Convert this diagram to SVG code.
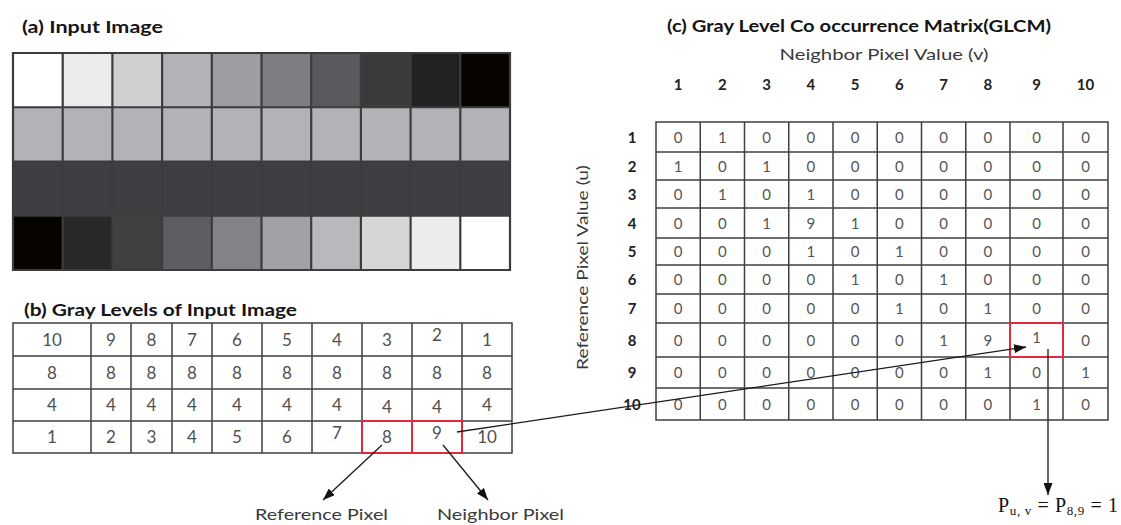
<svg xmlns="http://www.w3.org/2000/svg" width="1121" height="525" viewBox="0 0 1121 525">
<style>
.title{font-family:Lato,"Liberation Sans",sans-serif;font-weight:bold;font-size:17px;fill:#151515}
.lbl{font-family:Lato,"Liberation Sans",sans-serif;font-size:16px;fill:#3a3a3a}
.cb{font-family:Lato,"Liberation Sans",sans-serif;font-size:17px;fill:#505050;text-anchor:middle}
.cg{font-family:Lato,"Liberation Sans",sans-serif;font-size:15px;fill:#555;text-anchor:middle}
.hd{font-family:Lato,"Liberation Sans",sans-serif;font-size:15px;font-weight:bold;fill:#222;text-anchor:middle}
.grid{fill:none;stroke:#3c3c3c;stroke-width:2.2}
.tbl{fill:none;stroke:#404040;stroke-width:1.5}
.red{fill:none;stroke:#e3283e;stroke-width:2}
.arr{fill:none;stroke:#1a1a1a;stroke-width:1.3;marker-end:url(#ah)}
</style>
<defs>
<marker id="ah" markerUnits="userSpaceOnUse" markerWidth="12" markerHeight="9" refX="12" refY="4.5" orient="auto">
<path d="M0,0 L12,4.5 L0,9 z" fill="#111"/>
</marker>
</defs>
<rect width="1121" height="525" fill="#fff"/>

<g id="input-image">
<text class="title" x="22" y="33" textLength="141" lengthAdjust="spacingAndGlyphs">(a) Input Image</text>
<rect x="13" y="107.25" width="497" height="54.25" fill="#b2b3b7"/>
<rect x="13" y="161.5" width="497" height="54.25" fill="#3e3f42"/>
<rect x="13" y="53" width="49.7" height="54.25" fill="#ffffff"/>
<rect x="62.7" y="53" width="49.7" height="54.25" fill="#ebebeb"/>
<rect x="112.4" y="53" width="49.7" height="54.25" fill="#d0d0d0"/>
<rect x="162.1" y="53" width="49.7" height="54.25" fill="#b3b3b7"/>
<rect x="211.8" y="53" width="49.7" height="54.25" fill="#9e9ea2"/>
<rect x="261.5" y="53" width="49.7" height="54.25" fill="#7e7e82"/>
<rect x="311.2" y="53" width="49.7" height="54.25" fill="#5a5a5e"/>
<rect x="360.9" y="53" width="49.7" height="54.25" fill="#3b3b3d"/>
<rect x="410.6" y="53" width="49.7" height="54.25" fill="#222222"/>
<rect x="460.3" y="53" width="49.7" height="54.25" fill="#060300"/>
<rect x="13" y="215.75" width="49.7" height="54.25" fill="#060300"/>
<rect x="62.7" y="215.75" width="49.7" height="54.25" fill="#282828"/>
<rect x="112.4" y="215.75" width="49.7" height="54.25" fill="#404043"/>
<rect x="162.1" y="215.75" width="49.7" height="54.25" fill="#5e5e62"/>
<rect x="211.8" y="215.75" width="49.7" height="54.25" fill="#838387"/>
<rect x="261.5" y="215.75" width="49.7" height="54.25" fill="#a2a2a6"/>
<rect x="311.2" y="215.75" width="49.7" height="54.25" fill="#b9b9bd"/>
<rect x="360.9" y="215.75" width="49.7" height="54.25" fill="#d6d6d6"/>
<rect x="410.6" y="215.75" width="49.7" height="54.25" fill="#ececec"/>
<rect x="460.3" y="215.75" width="49.7" height="54.25" fill="#ffffff"/>
<path class="grid" d="M13,53H510V270H13Z M62.7,53V270 M112.4,53V270 M162.1,53V270 M211.8,53V270 M261.5,53V270 M311.2,53V270 M360.9,53V270 M410.6,53V270 M460.3,53V270 M13,107.25H510 M13,161.5H510 M13,215.75H510"/>
</g>

<g id="gray-levels">
<text class="title" x="24" y="316" textLength="273" lengthAdjust="spacingAndGlyphs">(b) Gray Levels of Input Image</text>
<path class="tbl" d="M13,323H512V453H13Z M91,323V453 M131,323V453 M172,323V453 M212,323V453 M262,323V453 M312,323V453 M362,323V453 M412,323V453 M462,323V453 M13,356H512 M13,389H512 M13,421H512"/>
<text class="cb" x="52" y="345.5">10</text>
<text class="cb" x="111" y="345.5">9</text>
<text class="cb" x="151.5" y="345.5">8</text>
<text class="cb" x="192" y="345.5">7</text>
<text class="cb" x="237" y="345.5">6</text>
<text class="cb" x="287" y="345.5">5</text>
<text class="cb" x="337" y="345.5">4</text>
<text class="cb" x="387" y="345.5">3</text>
<text class="cb" x="437" y="341">2</text>
<text class="cb" x="487" y="345.5">1</text>
<text class="cb" x="52" y="378.5">8</text>
<text class="cb" x="111" y="378.5">8</text>
<text class="cb" x="151.5" y="378.5">8</text>
<text class="cb" x="192" y="378.5">8</text>
<text class="cb" x="237" y="378.5">8</text>
<text class="cb" x="287" y="378.5">8</text>
<text class="cb" x="337" y="378.5">8</text>
<text class="cb" x="387" y="378.5">8</text>
<text class="cb" x="437" y="378.5">8</text>
<text class="cb" x="487" y="378.5">8</text>
<text class="cb" x="52" y="411">4</text>
<text class="cb" x="111" y="411">4</text>
<text class="cb" x="151.5" y="411">4</text>
<text class="cb" x="192" y="411">4</text>
<text class="cb" x="237" y="411">4</text>
<text class="cb" x="287" y="411">4</text>
<text class="cb" x="337" y="411">4</text>
<text class="cb" x="387" y="413">4</text>
<text class="cb" x="437" y="413">4</text>
<text class="cb" x="487" y="411">4</text>
<text class="cb" x="52" y="443">1</text>
<text class="cb" x="111" y="443">2</text>
<text class="cb" x="151.5" y="443">3</text>
<text class="cb" x="192" y="443">4</text>
<text class="cb" x="237" y="443">5</text>
<text class="cb" x="287" y="443">6</text>
<text class="cb" x="337" y="439">7</text>
<text class="cb" x="387" y="443">8</text>
<text class="cb" x="437" y="439">9</text>
<text class="cb" x="487" y="443">10</text>
<rect class="red" x="362" y="421" width="50" height="32"/>
<rect class="red" x="412" y="421" width="50" height="32"/>
</g>

<g id="glcm">
<text class="title" x="667" y="32" textLength="384" lengthAdjust="spacingAndGlyphs">(c) Gray Level Co occurrence Matrix(GLCM)</text>
<text class="lbl" x="884" y="60" text-anchor="middle" textLength="209" lengthAdjust="spacingAndGlyphs">Neighbor Pixel Value (v)</text>
<text class="lbl" transform="translate(588,267.5) rotate(-90)" text-anchor="middle" textLength="205" lengthAdjust="spacingAndGlyphs">Reference Pixel Value (u)</text>
<text class="hd" x="678.1" y="90">1</text>
<text class="hd" x="722.4" y="90">2</text>
<text class="hd" x="766.6" y="90">3</text>
<text class="hd" x="810.9" y="90">4</text>
<text class="hd" x="855.1" y="90">5</text>
<text class="hd" x="899.4" y="90">6</text>
<text class="hd" x="943.6" y="90">7</text>
<text class="hd" x="987.9" y="90">8</text>
<text class="hd" x="1036.5" y="90">9</text>
<text class="hd" x="1085.5" y="90">10</text>
<text class="hd" x="632" y="142.5">1</text>
<text class="hd" x="632" y="171.5">2</text>
<text class="hd" x="632" y="199.5">3</text>
<text class="hd" x="632" y="228.5">4</text>
<text class="hd" x="632" y="257">5</text>
<text class="hd" x="632" y="285">6</text>
<text class="hd" x="632" y="314">7</text>
<text class="hd" x="632" y="345.5">8</text>
<text class="hd" x="632" y="378">9</text>
<text class="hd" x="632" y="409.5">10</text>
<path class="tbl" d="M656,122H1108V420H656Z M700.25,122V420 M744.5,122V420 M788.75,122V420 M833,122V420 M877.25,122V420 M921.5,122V420 M965.75,122V420 M1010,122V420 M1063,122V420 M656,152H1108 M656,180H1108 M656,208H1108 M656,238H1108 M656,265H1108 M656,294H1108 M656,323H1108 M656,357H1108 M656,388H1108"/>
<g>
<text class="cg" x="678.1" y="142.5">0</text><text class="cg" x="722.4" y="142.5">1</text><text class="cg" x="766.6" y="142.5">0</text><text class="cg" x="810.9" y="142.5">0</text><text class="cg" x="855.1" y="142.5">0</text><text class="cg" x="899.4" y="142.5">0</text><text class="cg" x="943.6" y="142.5">0</text><text class="cg" x="987.9" y="142.5">0</text><text class="cg" x="1036.5" y="142.5">0</text><text class="cg" x="1085.5" y="142.5">0</text>
<text class="cg" x="678.1" y="171.5">1</text><text class="cg" x="722.4" y="171.5">0</text><text class="cg" x="766.6" y="171.5">1</text><text class="cg" x="810.9" y="171.5">0</text><text class="cg" x="855.1" y="171.5">0</text><text class="cg" x="899.4" y="171.5">0</text><text class="cg" x="943.6" y="171.5">0</text><text class="cg" x="987.9" y="171.5">0</text><text class="cg" x="1036.5" y="171.5">0</text><text class="cg" x="1085.5" y="171.5">0</text>
<text class="cg" x="678.1" y="199.5">0</text><text class="cg" x="722.4" y="199.5">1</text><text class="cg" x="766.6" y="199.5">0</text><text class="cg" x="810.9" y="199.5">1</text><text class="cg" x="855.1" y="199.5">0</text><text class="cg" x="899.4" y="199.5">0</text><text class="cg" x="943.6" y="199.5">0</text><text class="cg" x="987.9" y="199.5">0</text><text class="cg" x="1036.5" y="199.5">0</text><text class="cg" x="1085.5" y="199.5">0</text>
<text class="cg" x="678.1" y="228.5">0</text><text class="cg" x="722.4" y="228.5">0</text><text class="cg" x="766.6" y="228.5">1</text><text class="cg" x="810.9" y="228.5">9</text><text class="cg" x="855.1" y="228.5">1</text><text class="cg" x="899.4" y="228.5">0</text><text class="cg" x="943.6" y="228.5">0</text><text class="cg" x="987.9" y="228.5">0</text><text class="cg" x="1036.5" y="228.5">0</text><text class="cg" x="1085.5" y="228.5">0</text>
<text class="cg" x="678.1" y="257">0</text><text class="cg" x="722.4" y="257">0</text><text class="cg" x="766.6" y="257">0</text><text class="cg" x="810.9" y="257">1</text><text class="cg" x="855.1" y="257">0</text><text class="cg" x="899.4" y="257">1</text><text class="cg" x="943.6" y="257">0</text><text class="cg" x="987.9" y="257">0</text><text class="cg" x="1036.5" y="257">0</text><text class="cg" x="1085.5" y="257">0</text>
<text class="cg" x="678.1" y="285">0</text><text class="cg" x="722.4" y="285">0</text><text class="cg" x="766.6" y="285">0</text><text class="cg" x="810.9" y="285">0</text><text class="cg" x="855.1" y="285">1</text><text class="cg" x="899.4" y="285">0</text><text class="cg" x="943.6" y="285">1</text><text class="cg" x="987.9" y="285">0</text><text class="cg" x="1036.5" y="285">0</text><text class="cg" x="1085.5" y="285">0</text>
<text class="cg" x="678.1" y="314">0</text><text class="cg" x="722.4" y="314">0</text><text class="cg" x="766.6" y="314">0</text><text class="cg" x="810.9" y="314">0</text><text class="cg" x="855.1" y="314">0</text><text class="cg" x="899.4" y="314">1</text><text class="cg" x="943.6" y="314">0</text><text class="cg" x="987.9" y="314">1</text><text class="cg" x="1036.5" y="314">0</text><text class="cg" x="1085.5" y="314">0</text>
<text class="cg" x="678.1" y="345.5">0</text><text class="cg" x="722.4" y="345.5">0</text><text class="cg" x="766.6" y="345.5">0</text><text class="cg" x="810.9" y="345.5">0</text><text class="cg" x="855.1" y="345.5">0</text><text class="cg" x="899.4" y="345.5">0</text><text class="cg" x="943.6" y="345.5">1</text><text class="cg" x="987.9" y="345.5">9</text><text class="cg" x="1036.5" y="343">1</text><text class="cg" x="1085.5" y="345.5">0</text>
<text class="cg" x="678.1" y="378">0</text><text class="cg" x="722.4" y="378">0</text><text class="cg" x="766.6" y="378">0</text><text class="cg" x="810.9" y="378">0</text><text class="cg" x="855.1" y="378">0</text><text class="cg" x="899.4" y="378">0</text><text class="cg" x="943.6" y="378">0</text><text class="cg" x="987.9" y="378">1</text><text class="cg" x="1036.5" y="378">0</text><text class="cg" x="1085.5" y="378">1</text>
<text class="cg" x="678.1" y="409.5">0</text><text class="cg" x="722.4" y="409.5">0</text><text class="cg" x="766.6" y="409.5">0</text><text class="cg" x="810.9" y="409.5">0</text><text class="cg" x="855.1" y="409.5">0</text><text class="cg" x="899.4" y="409.5">0</text><text class="cg" x="943.6" y="409.5">0</text><text class="cg" x="987.9" y="409.5">0</text><text class="cg" x="1036.5" y="409.5">1</text><text class="cg" x="1085.5" y="409.5">0</text>
</g>
<rect class="red" x="1010" y="323" width="53" height="34"/>
</g>

<g id="ref-pixel-label">
<text class="lbl" x="255" y="520" textLength="133" lengthAdjust="spacingAndGlyphs">Reference Pixel</text>
</g>
<g id="neighbor-pixel-label">
<text class="lbl" x="437" y="520" textLength="127" lengthAdjust="spacingAndGlyphs">Neighbor Pixel</text>
</g>
<g id="probability-label">
<text x="998" y="512" font-family="'Liberation Serif',serif" font-size="20" fill="#111" textLength="120" lengthAdjust="spacing">P<tspan font-size="13" dy="3">u, v</tspan><tspan dy="-3"> = P</tspan><tspan font-size="13" dy="3">8,9</tspan><tspan dy="-3"> = 1</tspan></text>
</g>

<g id="connectors">
<path class="arr" d="M457,432 L1026,347"/>
<path class="arr" d="M382,445 L323,500"/>
<path class="arr" d="M443,445 L488,500"/>
<path class="arr" d="M1048,349 L1048,495"/>
</g>
</svg>
